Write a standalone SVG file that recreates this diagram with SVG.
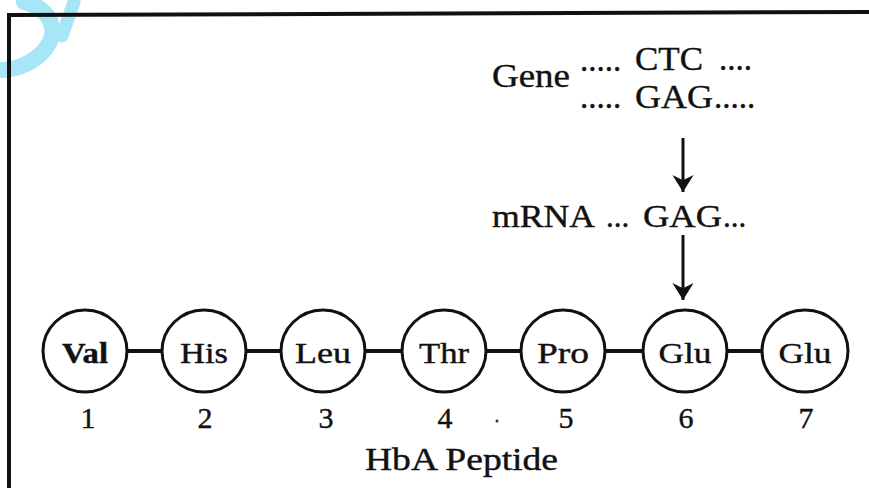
<svg xmlns="http://www.w3.org/2000/svg" width="869" height="488" viewBox="0 0 869 488">
<style>
  .t { font-family: "Liberation Serif", "Times New Roman", serif; fill: #111; stroke: #111; stroke-width: 0.4; }
  .node ellipse { fill: #fff; stroke: #111; stroke-width: 3; }
  .lbl { font-size: 30px; text-anchor: middle; }
  .num { font-size: 30px; text-anchor: middle; }
  .bond { stroke: #111; stroke-width: 4; }
  .arr { stroke: #111; stroke-width: 3; fill: none; }
</style>
<defs>
  <marker id="ah" markerUnits="userSpaceOnUse" markerWidth="18" markerHeight="22" refX="16" refY="10" orient="auto" viewBox="0 0 17 20">
    <path d="M0,0 L16,10 L0,20 L5,10 Z" fill="#111"/>
  </marker>
</defs>
<rect width="869" height="488" fill="#fff"/>
<!-- watermark fragment -->
<g id="watermark" fill="none" stroke="#a6e6f7" stroke-linecap="round">
  <path d="M 24 2 C 50 8 60 30 46 48 C 36 62 16 70 2 70" stroke-width="16"/>
  <path d="M 62 36 L 74 2" stroke-width="13"/>
</g>
<!-- frame -->
<g id="frame" stroke="#111" stroke-width="4">
  <line x1="7" y1="15" x2="869" y2="12"/>
  <line x1="9" y1="13" x2="9" y2="488"/>
</g>
<g id="gene">
  <text class="t" x="492" y="87" font-size="33" textLength="78" lengthAdjust="spacingAndGlyphs">Gene</text>
  <text class="t" font-size="33"><tspan x="580" y="71">.....</tspan></text>
  <text class="t" x="635" y="70" font-size="33" textLength="68" lengthAdjust="spacingAndGlyphs">CTC</text>
  <text class="t" font-size="33"><tspan x="719" y="70">....</tspan></text>
  <text class="t" font-size="33"><tspan x="580" y="108">.....</tspan></text>
  <text class="t" x="635" y="108" font-size="33" textLength="78" lengthAdjust="spacingAndGlyphs">GAG</text>
  <text class="t" font-size="33"><tspan x="714" y="108">.....</tspan></text>
</g>
<g id="mrna">
  <text class="t" x="492" y="227" font-size="31" textLength="103" lengthAdjust="spacingAndGlyphs">mRNA</text>
  <text class="t" font-size="31"><tspan x="606" y="227">...</tspan></text>
  <text class="t" x="643" y="227" font-size="31" textLength="79" lengthAdjust="spacingAndGlyphs">GAG</text>
  <text class="t" font-size="31"><tspan x="723" y="227">...</tspan></text>
</g>
<g id="connectors">
  <line class="arr" x1="683" y1="138" x2="683" y2="192" marker-end="url(#ah)"/>
  <line class="arr" x1="683" y1="235" x2="683" y2="300" marker-end="url(#ah)"/>
  <line class="bond" x1="127" y1="351" x2="162" y2="351"/>
  <line class="bond" x1="246" y1="351" x2="281" y2="351"/>
  <line class="bond" x1="365" y1="351" x2="402" y2="351"/>
  <line class="bond" x1="486" y1="351" x2="521" y2="351"/>
  <line class="bond" x1="605" y1="351" x2="643" y2="351"/>
  <line class="bond" x1="727" y1="351" x2="763" y2="351"/>
</g>
<g id="n1" class="node"><ellipse cx="85" cy="351" rx="42" ry="41"/><text class="t lbl" x="85" y="363" font-weight="bold" textLength="46" lengthAdjust="spacingAndGlyphs">Val</text></g>
<g id="n2" class="node"><ellipse cx="204" cy="351" rx="42" ry="41"/><text class="t lbl" x="204" y="363" textLength="48" lengthAdjust="spacingAndGlyphs">His</text></g>
<g id="n3" class="node"><ellipse cx="323" cy="351" rx="42" ry="41"/><text class="t lbl" x="323" y="363" textLength="56" lengthAdjust="spacingAndGlyphs">Leu</text></g>
<g id="n4" class="node"><ellipse cx="444" cy="351" rx="42" ry="41"/><text class="t lbl" x="444" y="363" textLength="50" lengthAdjust="spacingAndGlyphs">Thr</text></g>
<g id="n5" class="node"><ellipse cx="563" cy="351" rx="42" ry="41"/><text class="t lbl" x="563" y="363" textLength="52" lengthAdjust="spacingAndGlyphs">Pro</text></g>
<g id="n6" class="node"><ellipse cx="685" cy="351" rx="42" ry="41"/><text class="t lbl" x="685" y="363" textLength="53" lengthAdjust="spacingAndGlyphs">Glu</text></g>
<g id="n7" class="node"><ellipse cx="805" cy="351" rx="43" ry="41"/><text class="t lbl" x="805" y="363" textLength="53" lengthAdjust="spacingAndGlyphs">Glu</text></g>
<g id="numbers">
  <text class="t num" x="88" y="428">1</text>
  <text class="t num" x="205" y="428">2</text>
  <text class="t num" x="326" y="428">3</text>
  <text class="t num" x="445" y="428">4</text>
  <circle cx="497" cy="421" r="1.5" fill="#333"/>
  <text class="t num" x="566" y="428">5</text>
  <text class="t num" x="686" y="428">6</text>
  <text class="t num" x="806" y="428">7</text>
</g>
<g id="title">
  <text class="t" x="365" y="470" font-size="31" textLength="193" lengthAdjust="spacingAndGlyphs">HbA Peptide</text>
</g>
</svg>
